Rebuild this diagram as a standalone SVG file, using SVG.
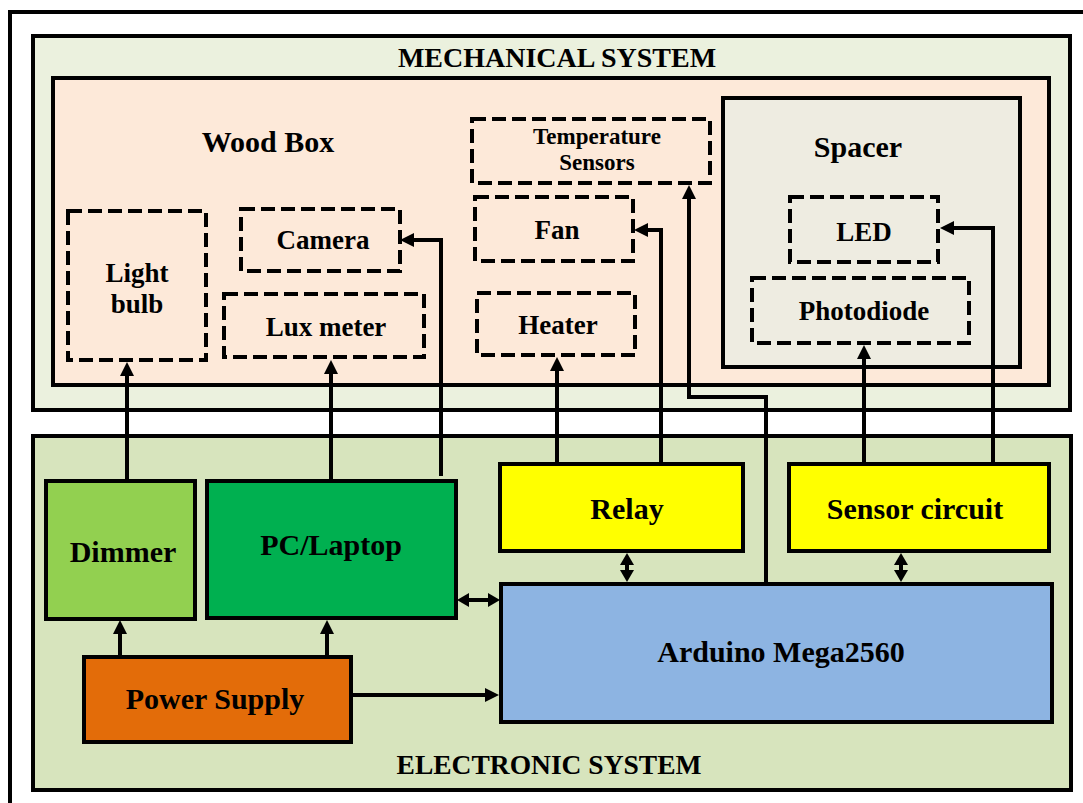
<svg xmlns="http://www.w3.org/2000/svg" width="1083" height="803" viewBox="0 0 1083 803">
<defs>
<style>
.t{font-family:"Liberation Serif","Times New Roman",serif;font-weight:bold;fill:#000;text-anchor:middle}
.box{stroke:#000;stroke-width:4}
.dash{fill:none;stroke:#000;stroke-width:4;stroke-dasharray:14 6}
.ln{fill:none;stroke:#000;stroke-width:4}
</style>
<marker id="ah" markerUnits="userSpaceOnUse" markerWidth="14" markerHeight="14" refX="0" refY="7" orient="auto-start-reverse" viewBox="0 0 14 14"><path d="M0,0 L14,7 L0,14 z" fill="#000"/></marker>
<marker id="am" markerUnits="userSpaceOnUse" markerWidth="12" markerHeight="14" refX="0" refY="7" orient="auto-start-reverse" viewBox="0 0 12 14"><path d="M0,0 L12,7 L0,14 z" fill="#000"/></marker>
</defs>
<rect x="0" y="0" width="1083" height="803" fill="#fff"/>
<rect x="10" y="12" width="1090" height="800" fill="none" stroke="#000" stroke-width="4"/>

<g id="mechanical-system">
<rect class="box" x="33" y="36" width="1037" height="374" fill="#EBF1DE"/>
<text class="t" x="557" y="67" font-size="28">MECHANICAL SYSTEM</text>
</g>
<g id="wood-box">
<rect class="box" x="53" y="78" width="996" height="307" fill="#FDE9D9"/>
<text class="t" x="268" y="152" font-size="30">Wood Box</text>
</g>
<g id="spacer">
<rect class="box" x="723" y="98" width="297" height="269" fill="#EEECE1"/>
<text class="t" x="858" y="157" font-size="30">Spacer</text>
</g>
<g id="light-bulb">
<rect class="dash" x="68" y="211" width="138" height="149"/>
<text class="t" x="137" y="282" font-size="27">Light</text>
<text class="t" x="137" y="313" font-size="27">bulb</text>
</g>
<g id="camera">
<rect class="dash" x="241" y="209" width="159" height="62"/>
<text class="t" x="323" y="249" font-size="27">Camera</text>
</g>
<g id="lux-meter">
<rect class="dash" x="224" y="294" width="200" height="63"/>
<text class="t" x="326" y="336" font-size="27">Lux meter</text>
</g>
<g id="temperature-sensors">
<rect class="dash" x="472" y="119" width="238" height="64"/>
<text class="t" x="597" y="144" font-size="23">Temperature</text>
<text class="t" x="597" y="170" font-size="23">Sensors</text>
</g>
<g id="fan">
<rect class="dash" x="475" y="197" width="158" height="64"/>
<text class="t" x="557" y="239" font-size="27">Fan</text>
</g>
<g id="heater">
<rect class="dash" x="477" y="293" width="158" height="62"/>
<text class="t" x="558" y="334" font-size="27">Heater</text>
</g>
<g id="led">
<rect class="dash" x="790" y="197" width="148" height="65"/>
<text class="t" x="864" y="241" font-size="27">LED</text>
</g>
<g id="photodiode">
<rect class="dash" x="752" y="278" width="217" height="65"/>
<text class="t" x="864" y="320" font-size="27">Photodiode</text>
</g>

<g id="electronic-system">
<rect class="box" x="33" y="436" width="1038" height="354" fill="#D7E4BD"/>
<text class="t" x="549" y="774" font-size="27.5">ELECTRONIC SYSTEM</text>
</g>
<g id="dimmer">
<rect class="box" x="46" y="481" width="149" height="138" fill="#92D050"/>
<text class="t" x="123" y="562" font-size="30">Dimmer</text>
</g>
<g id="pc-laptop">
<rect class="box" x="207" y="481" width="249" height="137" fill="#00B050"/>
<text class="t" x="331" y="555" font-size="30">PC/Laptop</text>
</g>
<g id="power-supply">
<rect class="box" x="84" y="657" width="267" height="85" fill="#E36C09"/>
<text class="t" x="215" y="709" font-size="30">Power Supply</text>
</g>
<g id="relay">
<rect class="box" x="500" y="464" width="243" height="87" fill="#FFFF00"/>
<text class="t" x="627" y="519" font-size="30">Relay</text>
</g>
<g id="sensor-circuit">
<rect class="box" x="789" y="464" width="260" height="87" fill="#FFFF00"/>
<text class="t" x="915" y="519" font-size="30">Sensor circuit</text>
</g>
<g id="arduino">
<rect class="box" x="501" y="584" width="551" height="138" fill="#8DB4E2"/>
<text class="t" x="781" y="662" font-size="30">Arduino Mega2560</text>
</g>

<g id="connectors">
<path class="ln" d="M127,479 V376" marker-end="url(#ah)"/>
<path class="ln" d="M331,479 V374" marker-end="url(#ah)"/>
<path class="ln" d="M441,476 V240 H414" marker-end="url(#ah)"/>
<path class="ln" d="M557,462 V371" marker-end="url(#ah)"/>
<path class="ln" d="M661,462 V230 H648" marker-end="url(#ah)"/>
<path class="ln" d="M766,582 V397 H689 V199" marker-end="url(#ah)"/>
<path class="ln" d="M864,462 V359" marker-end="url(#ah)"/>
<path class="ln" d="M993,462 V228 H954" marker-end="url(#ah)"/>
<path class="ln" d="M627,565 V570" marker-start="url(#am)" marker-end="url(#am)"/>
<path class="ln" d="M901,565 V570" marker-start="url(#am)" marker-end="url(#am)"/>
<path class="ln" d="M469,600 H488" marker-start="url(#am)" marker-end="url(#am)"/>
<path class="ln" d="M120,655 V634" marker-end="url(#ah)"/>
<path class="ln" d="M327,655 V634" marker-end="url(#ah)"/>
<path class="ln" d="M353,695 H485" marker-end="url(#ah)"/>
</g>
</svg>
